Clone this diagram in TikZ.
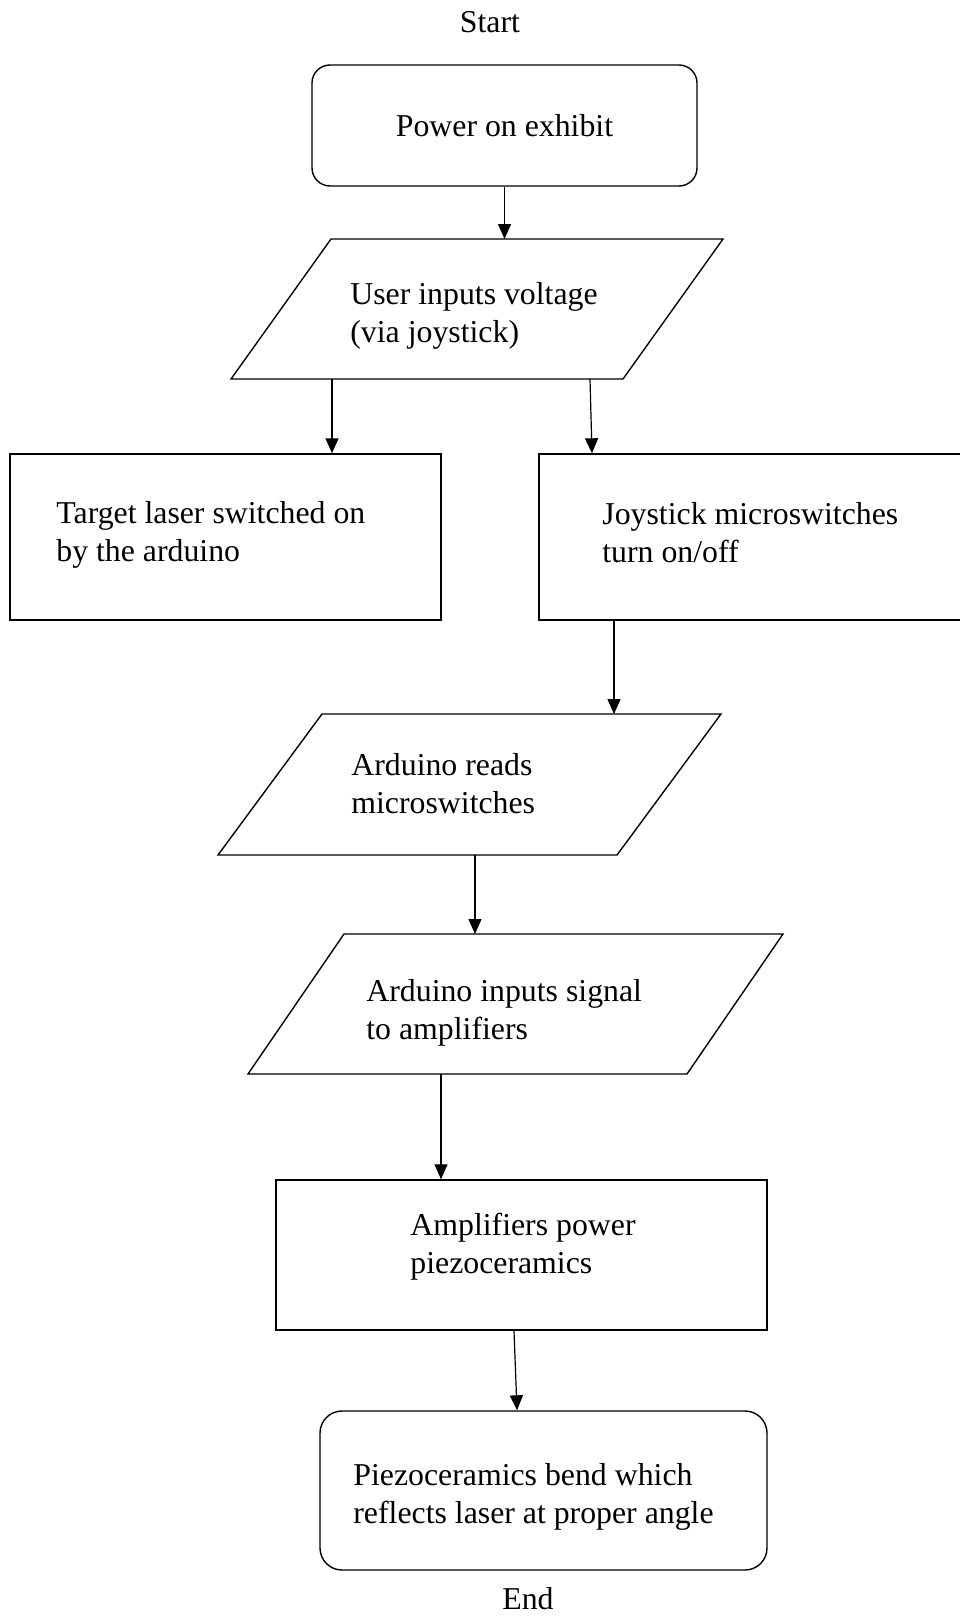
\documentclass[tikz,border=0pt]{standalone}
\usepackage{fontspec}
\setmainfont{Liberation Serif}
\usetikzlibrary{arrows.meta}

% parallelogram round the bounding rectangle of a node: name, slant
\newcommand{\drawio}[2]{%
	\draw [line width=0.7pt] (#1.south west) -- ([xshift=#2]#1.north west) -- (#1.north east) -- ([xshift=-#2]#1.south east) -- cycle;}

\begin{document}
\begin{tikzpicture}[x=0.5pt,y=-0.5pt,
		box/.style={draw=black,line width=0.7pt,rectangle,inner sep=0pt},
		rbox/.style={box,rounded corners=9pt},
		io/.style={rectangle,inner sep=0pt,outer sep=0pt},
		txt/.style={font=\fontsize{15.9}{19}\selectfont,align=left,inner sep=0pt,anchor=base west},
		arr/.style={-{Triangle[length=7.5pt,width=6.5pt]},line width=0.6pt}]
		\useasboundingbox (0,0) rectangle (959,1616);
		% shapes
		\node [rbox,font=\fontsize{15.9}{19}\selectfont,minimum width=192.5pt,minimum height=60.5pt] (power) at (504.5,125.5) {Power on exhibit};
		\node [io,minimum width=246pt,minimum height=70pt] (input) at (477,309) {};
		\node [box,minimum width=215.5pt,minimum height=83pt] (laser) at (225.5,537) {};
		\node [box,minimum width=218pt,minimum height=83pt] (switch) at (757,537) {};
		\node [io,minimum width=251.5pt,minimum height=70.5pt] (reads) at (469.5,784.5) {};
		\node [io,minimum width=267.5pt,minimum height=70pt] (signal) at (515.5,1004) {};
		\node [box,minimum width=245.5pt,minimum height=75pt] (amp) at (521.5,1255) {};
		\node [rbox,rounded corners=11pt,minimum width=223.5pt,minimum height=79.5pt] (bend) at (543.5,1490.5) {};
		\drawio{input}{50pt}
		\drawio{reads}{52pt}
		\drawio{signal}{48pt}
		% texts (base = last line)
		\node [txt,anchor=center] (start) at (490,22) {Start};
		\node [txt] (input-t) at (350,342) {User inputs voltage\\(via joystick)};
		\node [txt] (laser-t) at (56,561) {Target laser switched on\\by the arduino};
		\node [txt] (switch-t) at (602,562) {Joystick microswitches\\turn on/off};
		\node [txt] (reads-t) at (351,813) {Arduino reads\\microswitches};
		\node [txt] (signal-t) at (366,1039) {Arduino inputs signal\\to amplifiers};
		\node [txt] (amp-t) at (410,1273) {Amplifiers power\\piezoceramics};
		\node [txt] (bend-t) at (353,1523) {Piezoceramics bend which\\reflects laser at proper angle};
		\node [txt,anchor=center] (end) at (528,1599) {End};
		% arrows
		\draw [arr] (power) -- (power |- input.north);
		\draw [arr] ([xshift=-72.5pt]input.south) -- ([xshift=53.25pt]laser.north);
		\draw [arr] ([xshift=56.5pt]input.south) -- ([xshift=-82.5pt]switch.north);
		\draw [arr] ([xshift=-71.5pt]switch.south) -- ([xshift=72.25pt]reads.north);
		\draw [arr] ([xshift=2.75pt]reads.south) -- ([xshift=-20.25pt]signal.north);
		\draw [arr] ([xshift=-37.25pt]signal.south) -- ([xshift=-40.25pt]amp.north);
		\draw [arr] ([xshift=-3.75pt]amp.south) -- ([xshift=-13.25pt]bend.north);
\end{tikzpicture}
\end{document}
